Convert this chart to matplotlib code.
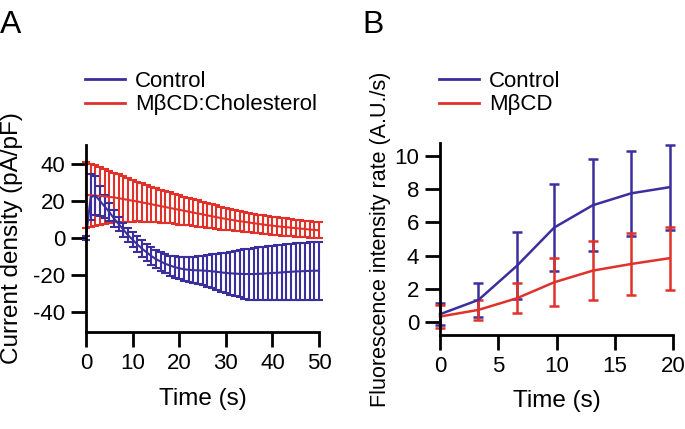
import numpy as np
import matplotlib.pyplot as plt
from matplotlib.lines import Line2D

plt.rcParams['font.family'] = ['Liberation Sans', 'DejaVu Sans']
plt.rcParams['axes.unicode_minus'] = False
plt.rcParams['axes.linewidth'] = 2
plt.rcParams['xtick.major.size'] = 11
plt.rcParams['ytick.major.size'] = 11
plt.rcParams['xtick.major.width'] = 2
plt.rcParams['ytick.major.width'] = 2
plt.rcParams['xtick.labelsize'] = 16
plt.rcParams['ytick.labelsize'] = 16
plt.rcParams['axes.labelsize'] = 17.5

BLUE = '#3b2f9e'
RED = '#e0312a'

# panel A: current density, one sample per second
time_a = np.arange(0, 51)
ctrl_a_mean = [0.0, 22.0, 23.0, 20.0, 17.0, 14.0, 10.5, 7.5, 4.5, 1.5,
               -1.0, -3.5, -5.8, -7.8, -9.8, -11.5, -12.8, -14.0, -15.0, -15.8,
               -16.5, -17.0, -17.3, -17.5, -17.6, -17.7, -17.9, -18.1, -18.4, -18.7,
               -19.0, -19.2, -19.4, -19.5, -19.6, -19.6, -19.6, -19.5, -19.4, -19.2,
               -19.0, -18.9, -18.7, -18.5, -18.4, -18.2, -18.1, -18.0, -17.9, -17.8,
               -17.8]
ctrl_a_sem = [1.0, 12.5, 10.5, 8.0, 6.0, 5.0, 4.5, 4.0, 3.8, 3.8,
              4.0, 4.3, 4.5, 4.6, 4.7, 4.8, 4.9, 5.1, 5.4, 5.7,
              6.0, 6.4, 6.8, 7.2, 7.6, 8.0, 8.6, 9.2, 9.8, 10.4,
              11.0, 11.6, 12.2, 12.8, 13.3, 13.8, 14.1, 14.3, 14.5, 14.6,
              14.7, 14.8, 14.9, 15.0, 15.1, 15.2, 15.3, 15.4, 15.5, 15.6,
              15.7]
chol_a_mean = [23.2, 23.1, 22.9, 22.7, 22.5, 22.2, 21.9, 21.5, 21.0, 20.6,
               20.1, 19.7, 19.2, 18.7, 18.2, 17.7, 17.2, 16.7, 16.2, 15.7,
               15.2, 14.7, 14.2, 13.7, 13.2, 12.7, 12.2, 11.7, 11.2, 10.7,
               10.3, 9.8, 9.4, 9.0, 8.7, 8.3, 7.9, 7.6, 7.2, 6.9,
               6.6, 6.3, 6.0, 5.8, 5.5, 5.3, 5.0, 4.8, 4.5, 4.3,
               4.1]
chol_a_sem = [17.8, 17.1, 16.3, 15.5, 14.8, 14.2, 13.5, 12.9, 12.4, 11.8,
              11.3, 10.8, 10.4, 10.0, 9.6, 9.2, 8.9, 8.6, 8.4, 8.2,
              8.0, 7.7, 7.5, 7.3, 7.1, 6.9, 6.7, 6.6, 6.4, 6.2,
              6.0, 5.8, 5.6, 5.5, 5.3, 5.2, 5.1, 5.0, 5.0, 4.9,
              4.9, 4.8, 4.8, 4.7, 4.7, 4.6, 4.6, 4.5, 4.5, 4.5,
              4.4]

# panel B: fluorescence intensity rate
time_b = [0.0, 3.3, 6.6, 9.8, 13.1, 16.4, 19.7]
ctrl_b_mean = [0.48, 1.34, 3.39, 5.69, 7.03, 7.75, 8.12]
ctrl_b_sem = [0.66, 1.0, 2.02, 2.63, 2.77, 2.57, 2.56]
mbcd_b_mean = [0.34, 0.74, 1.44, 2.40, 3.10, 3.50, 3.85]
mbcd_b_sem = [0.7, 0.6, 0.9, 1.45, 1.79, 1.85, 1.9]


def style_axes(ax):
    ax.spines['top'].set_visible(False)
    ax.spines['right'].set_visible(False)
    ax.tick_params(direction='out', pad=4)


fig = plt.figure(figsize=(6.85, 4.29), dpi=100)

# ---- A ----
ax1 = fig.add_axes([86 / 685, 1 - 332 / 429, 233 / 685, 187 / 429])
ax1.errorbar(time_a, chol_a_mean, yerr=chol_a_sem, color=RED, lw=1.5,
             elinewidth=1.5, capsize=3, capthick=1.5, clip_on=False)
ax1.errorbar(time_a, ctrl_a_mean, yerr=ctrl_a_sem, color=BLUE, lw=1.5,
             elinewidth=1.5, capsize=3, capthick=1.5, clip_on=False)
ax1.set_xlim(0, 50)
ax1.set_ylim(-51, 50.3)
ax1.set_xticks(np.arange(0, 51, 10))
ax1.set_yticks(np.arange(-40, 41, 20))
ax1.set_xlabel('Time (s)')
ax1.set_ylabel('Current density (pA/pF)')
ax1.xaxis.set_label_coords(0.5, -0.30)
ax1.yaxis.set_label_coords(-0.27, 0.5)
style_axes(ax1)

# ---- B ----
ax2 = fig.add_axes([440 / 685, 1 - 335 / 429, 233 / 685, 191.7 / 429])
ax2.errorbar(time_b, ctrl_b_mean, yerr=ctrl_b_sem, color=BLUE, lw=1.8,
             elinewidth=1.8, capsize=3.5, capthick=1.8, clip_on=False)
ax2.errorbar(time_b, mbcd_b_mean, yerr=mbcd_b_sem, color=RED, lw=1.8,
             elinewidth=1.8, capsize=3.5, capthick=1.8, clip_on=False)
ax2.set_xlim(0, 20)
ax2.set_ylim(-0.77, 10.76)
ax2.set_xticks(np.arange(0, 21, 5))
ax2.set_yticks(np.arange(0, 11, 2))
ax2.set_xlabel('Time (s)')
ax2.set_ylabel('Fluorescence intensity rate (A.U./s)', fontsize=15.5)
ax2.xaxis.set_label_coords(0.5, -0.285)
ax2.yaxis.set_label_coords(-0.21, 0.5)
style_axes(ax2)

# legends
leg_kw = dict(loc='center left', frameon=False, fontsize=16, borderpad=0,
              borderaxespad=0, handlelength=1.8, handletextpad=0.45,
              labelspacing=0.12)
fig.legend([Line2D([], [], color=BLUE, lw=2), Line2D([], [], color=RED, lw=2)],
           ['Control', 'M\u03b2CD:Cholesterol'],
           bbox_to_anchor=(85 / 685, 1 - 93 / 429), **leg_kw)
fig.legend([Line2D([], [], color=BLUE, lw=2), Line2D([], [], color=RED, lw=2)],
           ['Control', 'M\u03b2CD'],
           bbox_to_anchor=(439 / 685, 1 - 93 / 429), **leg_kw)

# panel letters
fig.text(0.0, 1 - 33 / 429, 'A', fontsize=23, va='baseline', ha='left')
fig.text(362 / 685, 1 - 33 / 429, 'B', fontsize=23, va='baseline', ha='left')

fig.savefig('out.png', dpi=100)
